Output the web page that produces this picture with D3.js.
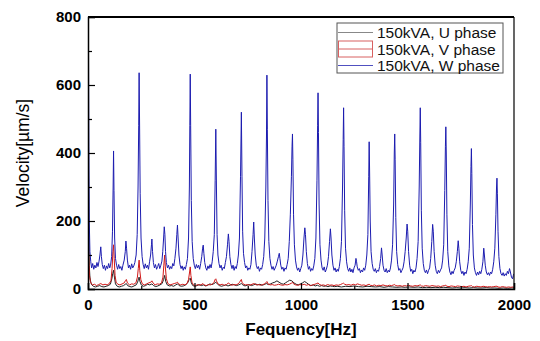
<!DOCTYPE html>
<html>
<head>
<meta charset="utf-8">
<script src="https://cdn.jsdelivr.net/npm/d3@7"></script>
<style>
  body { margin: 0; background: #fff; }
  svg { display: block; font-family: 'Liberation Sans', Arial, sans-serif; }
</style>
</head>
<body>
<div id="chart"></div>
<script>
// series values: [frequency Hz, velocity um/s]
const uPhase = [
  [0, 700], [2, 400], [4, 150], [6, 70], [9, 35], [13, 20], [18, 12], [25, 8], [35, 6], [45, 8],
  [55, 10], [65, 7], [75, 6], [85, 8], [95, 10], [105, 14], [112, 30], [116, 45], [120, 55], [124, 35],
  [129, 15], [137, 8], [147, 6], [157, 8], [167, 10], [175, 14], [180, 16], [186, 10], [196, 7], [206, 6],
  [216, 9], [226, 12], [233, 20], [237, 30], [240, 35], [244, 22], [250, 12], [260, 8], [270, 10], [280, 14],
  [290, 12], [300, 15], [308, 10], [318, 7], [328, 9], [338, 12], [348, 16], [355, 28], [360, 40], [365, 22],
  [372, 12], [382, 9], [392, 10], [402, 8], [412, 12], [420, 15], [428, 10], [438, 8], [448, 9], [458, 12],
  [468, 18], [475, 28], [480, 32], [485, 18], [492, 10], [502, 8], [512, 10], [522, 13], [532, 10], [542, 12],
  [552, 9], [562, 11], [572, 15], [582, 13], [592, 16], [600, 20], [607, 15], [617, 10], [627, 8], [637, 10],
  [647, 12], [657, 9], [667, 11], [677, 14], [687, 12], [697, 10], [707, 12], [717, 15], [720, 16], [727, 12],
  [737, 9], [747, 11], [757, 13], [767, 10], [777, 12], [787, 15], [797, 12], [807, 14], [817, 11], [827, 13],
  [837, 16], [847, 13], [857, 15], [867, 18], [877, 20], [887, 24], [897, 20], [907, 16], [917, 14], [927, 18],
  [937, 22], [947, 26], [957, 24], [967, 18], [977, 14], [987, 12], [997, 15], [1007, 18], [1017, 22], [1027, 18],
  [1037, 13], [1047, 10], [1057, 12], [1067, 9], [1077, 11], [1087, 8], [1097, 10], [1107, 8], [1117, 9], [1127, 7],
  [1137, 9], [1147, 8], [1157, 7], [1170, 8], [1190, 6], [1210, 8], [1230, 7], [1250, 9], [1270, 7], [1290, 6],
  [1310, 8], [1330, 7], [1350, 6], [1370, 7], [1390, 5], [1410, 7], [1430, 6], [1450, 5], [1470, 6], [1490, 5],
  [1510, 6], [1530, 5], [1550, 6], [1570, 4], [1590, 5], [1610, 4], [1630, 5], [1650, 4], [1670, 5], [1690, 4],
  [1710, 3], [1730, 4], [1750, 3], [1770, 4], [1790, 3], [1810, 4], [1830, 3], [1850, 3], [1870, 4], [1890, 3],
  [1910, 3], [1930, 2], [1950, 3], [1970, 2], [1990, 3], [2000, 3]
];

const vPhase = [
  [0, 235], [2, 150], [4, 80], [7, 40], [11, 22], [16, 15], [22, 12], [30, 14], [40, 10], [50, 13],
  [60, 16], [70, 12], [80, 14], [90, 12], [100, 16], [108, 25], [113, 60], [117, 110], [120, 130], [123, 90],
  [127, 40], [132, 20], [140, 14], [150, 12], [160, 15], [170, 18], [176, 25], [180, 28], [185, 18], [195, 12],
  [205, 15], [215, 14], [225, 18], [232, 35], [236, 60], [240, 85], [243, 55], [248, 28], [255, 15], [265, 12],
  [275, 15], [285, 18], [295, 20], [300, 24], [305, 18], [315, 12], [325, 15], [335, 14], [345, 18], [352, 35],
  [356, 70], [360, 100], [363, 65], [368, 30], [375, 16], [385, 12], [395, 14], [405, 16], [415, 18], [420, 20],
  [425, 15], [435, 12], [445, 14], [455, 12], [465, 16], [472, 28], [477, 50], [480, 65], [483, 40], [488, 20],
  [495, 12], [505, 10], [515, 13], [525, 11], [535, 14], [540, 16], [545, 12], [555, 10], [565, 13], [575, 12],
  [585, 15], [592, 20], [597, 28], [600, 30], [603, 24], [610, 15], [620, 12], [630, 14], [640, 11], [650, 13],
  [660, 18], [665, 14], [675, 11], [685, 13], [695, 12], [705, 15], [712, 20], [717, 26], [720, 28], [723, 20],
  [730, 14], [740, 12], [750, 13], [760, 11], [770, 14], [780, 16], [790, 12], [800, 13], [810, 11], [820, 13],
  [830, 15], [837, 20], [840, 22], [845, 15], [855, 12], [865, 13], [875, 11], [885, 12], [895, 14], [905, 12],
  [915, 11], [925, 13], [935, 12], [945, 14], [955, 17], [960, 20], [965, 15], [975, 12], [985, 11], [995, 13],
  [1005, 12], [1015, 14], [1025, 11], [1035, 13], [1045, 10], [1055, 12], [1065, 14], [1075, 16], [1080, 18], [1085, 14],
  [1095, 11], [1105, 12], [1115, 10], [1125, 13], [1135, 11], [1145, 12], [1155, 10], [1165, 12], [1175, 11], [1185, 13],
  [1195, 16], [1200, 17], [1205, 14], [1215, 12], [1225, 13], [1235, 11], [1245, 14], [1255, 12], [1265, 15], [1275, 13],
  [1285, 11], [1295, 12], [1305, 10], [1315, 13], [1320, 14], [1325, 11], [1335, 10], [1345, 12], [1355, 9], [1365, 11],
  [1375, 10], [1385, 12], [1395, 10], [1405, 9], [1415, 11], [1425, 10], [1435, 12], [1440, 13], [1445, 10], [1455, 9],
  [1465, 10], [1475, 8], [1485, 10], [1495, 9], [1505, 11], [1515, 9], [1525, 8], [1535, 10], [1545, 9], [1555, 11],
  [1560, 12], [1565, 9], [1575, 8], [1585, 10], [1595, 9], [1605, 8], [1615, 10], [1625, 9], [1635, 8], [1645, 9],
  [1655, 7], [1665, 9], [1675, 10], [1680, 11], [1685, 8], [1695, 7], [1705, 9], [1715, 8], [1725, 7], [1735, 9],
  [1745, 8], [1755, 7], [1765, 8], [1775, 6], [1785, 8], [1795, 9], [1800, 10], [1805, 7], [1815, 6], [1825, 8],
  [1835, 7], [1845, 6], [1855, 8], [1865, 7], [1875, 6], [1885, 7], [1895, 6], [1905, 7], [1915, 8], [1920, 8],
  [1925, 6], [1935, 5], [1945, 7], [1955, 6], [1965, 5], [1975, 6], [1985, 5], [1995, 6], [2000, 5]
];

const wPhase = [
  [0, 800], [2, 760], [4, 420], [6, 200], [9, 110], [13, 80], [17, 62], [22, 75], [27, 58], [32, 70],
  [37, 62], [42, 78], [47, 66], [52, 82], [56, 100], [60, 124], [63, 95], [67, 72], [72, 60], [77, 70],
  [82, 55], [87, 68], [92, 60], [97, 75], [102, 62], [106, 70], [111, 95], [115, 170], [118, 300], [120, 406],
  [122, 290], [125, 150], [129, 90], [134, 70], [139, 58], [144, 72], [149, 60], [154, 66], [159, 55], [164, 70],
  [170, 85], [175, 110], [178, 141], [181, 120], [185, 85], [190, 62], [195, 70], [200, 58], [205, 74], [210, 62],
  [215, 68], [220, 78], [226, 100], [231, 160], [235, 300], [238, 480], [240, 636], [242, 500], [245, 280], [249, 150],
  [254, 95], [259, 72], [264, 60], [269, 74], [274, 62], [279, 70], [284, 58], [289, 80], [294, 100], [298, 130],
  [300, 147], [303, 110], [307, 78], [312, 62], [317, 72], [322, 58], [327, 66], [332, 75], [337, 60], [342, 70],
  [347, 82], [351, 110], [355, 150], [358, 183], [361, 160], [364, 110], [368, 78], [373, 62], [378, 70], [383, 58],
  [388, 66], [393, 60], [398, 75], [403, 68], [408, 90], [413, 120], [417, 160], [420, 188], [423, 150], [427, 100],
  [432, 72], [437, 60], [442, 68], [447, 55], [452, 65], [457, 58], [462, 72], [467, 90], [472, 150], [476, 300],
  [478, 480], [480, 632], [482, 480], [485, 260], [489, 140], [494, 90], [499, 70], [504, 60], [509, 72], [514, 62],
  [519, 70], [524, 58], [529, 75], [534, 95], [538, 120], [541, 129], [544, 105], [548, 78], [553, 62], [558, 55],
  [563, 68], [568, 60], [573, 72], [578, 62], [583, 80], [588, 110], [593, 160], [597, 320], [600, 470], [603, 300],
  [606, 160], [610, 100], [615, 75], [620, 62], [625, 70], [630, 55], [635, 64], [640, 60], [645, 78], [650, 95],
  [655, 130], [659, 162], [662, 140], [666, 95], [671, 72], [676, 60], [681, 70], [686, 55], [691, 66], [696, 60],
  [701, 75], [706, 100], [711, 150], [716, 330], [720, 520], [723, 330], [726, 170], [730, 105], [735, 78], [740, 62],
  [745, 68], [750, 55], [755, 62], [760, 58], [765, 72], [770, 110], [775, 160], [778, 197], [781, 150], [785, 100],
  [790, 70], [795, 60], [800, 66], [805, 52], [810, 62], [815, 58], [820, 72], [825, 95], [830, 150], [835, 300],
  [838, 450], [840, 629], [842, 470], [845, 260], [849, 140], [854, 90], [859, 70], [864, 58], [869, 66], [874, 55],
  [879, 62], [884, 70], [889, 82], [894, 95], [898, 105], [901, 90], [905, 70], [910, 58], [915, 64], [920, 52],
  [925, 62], [930, 58], [935, 72], [940, 90], [945, 140], [950, 220], [955, 330], [958, 420], [960, 456], [962, 380],
  [965, 220], [969, 130], [974, 85], [979, 65], [984, 55], [989, 62], [994, 50], [999, 60], [1004, 70], [1009, 100],
  [1014, 150], [1018, 180], [1021, 160], [1025, 110], [1030, 75], [1035, 58], [1040, 66], [1045, 52], [1050, 60], [1055, 55],
  [1060, 68], [1065, 90], [1070, 150], [1075, 320], [1078, 480], [1080, 577], [1082, 460], [1085, 250], [1089, 130], [1094, 85],
  [1099, 62], [1104, 55], [1109, 65], [1114, 50], [1119, 58], [1124, 70], [1129, 95], [1134, 140], [1138, 177], [1141, 150],
  [1145, 100], [1150, 70], [1155, 55], [1160, 62], [1165, 50], [1170, 58], [1175, 52], [1180, 66], [1185, 90], [1190, 140],
  [1195, 300], [1198, 440], [1200, 533], [1202, 420], [1205, 230], [1209, 120], [1214, 80], [1219, 60], [1224, 52], [1229, 62],
  [1234, 50], [1239, 58], [1244, 48], [1249, 62], [1254, 70], [1258, 90], [1261, 80], [1264, 65], [1269, 55], [1274, 60],
  [1279, 48], [1284, 56], [1289, 50], [1294, 62], [1299, 55], [1304, 70], [1309, 100], [1314, 160], [1318, 330], [1320, 433],
  [1322, 350], [1325, 200], [1329, 110], [1334, 75], [1339, 58], [1344, 52], [1349, 60], [1354, 48], [1359, 56], [1364, 52],
  [1369, 66], [1374, 90], [1378, 121], [1381, 100], [1385, 70], [1390, 55], [1395, 50], [1400, 60], [1405, 48], [1410, 55],
  [1415, 50], [1420, 62], [1425, 85], [1430, 130], [1435, 250], [1438, 400], [1440, 456], [1442, 380], [1445, 210], [1449, 110],
  [1454, 72], [1459, 55], [1464, 60], [1469, 48], [1474, 55], [1479, 62], [1484, 80], [1489, 110], [1494, 150], [1498, 191],
  [1501, 170], [1505, 110], [1510, 70], [1515, 52], [1520, 58], [1525, 45], [1530, 55], [1535, 50], [1540, 62], [1545, 90],
  [1550, 140], [1555, 300], [1558, 450], [1560, 533], [1562, 430], [1565, 230], [1569, 120], [1574, 75], [1579, 55], [1584, 48],
  [1589, 56], [1594, 45], [1599, 55], [1604, 62], [1609, 90], [1614, 140], [1618, 190], [1621, 170], [1625, 110], [1630, 70],
  [1635, 52], [1640, 45], [1645, 55], [1650, 48], [1655, 56], [1660, 62], [1665, 85], [1670, 130], [1675, 290], [1678, 420],
  [1680, 477], [1682, 400], [1685, 220], [1689, 110], [1694, 68], [1699, 50], [1704, 42], [1709, 52], [1714, 45], [1719, 55],
  [1724, 62], [1729, 80], [1734, 110], [1738, 142], [1741, 120], [1745, 80], [1750, 55], [1755, 45], [1760, 52], [1765, 40],
  [1770, 50], [1775, 45], [1780, 58], [1785, 80], [1790, 120], [1795, 250], [1798, 360], [1800, 413], [1802, 340], [1805, 190],
  [1809, 100], [1814, 62], [1819, 48], [1824, 40], [1829, 50], [1834, 42], [1839, 52], [1844, 45], [1849, 58], [1854, 80],
  [1858, 120], [1861, 100], [1865, 70], [1870, 50], [1875, 42], [1880, 48], [1885, 40], [1890, 50], [1895, 45], [1900, 58],
  [1905, 80], [1910, 120], [1915, 220], [1918, 300], [1920, 326], [1922, 280], [1925, 170], [1929, 95], [1934, 60], [1939, 45],
  [1944, 40], [1949, 48], [1954, 38], [1959, 45], [1964, 40], [1969, 52], [1974, 45], [1979, 60], [1983, 50], [1988, 35],
  [1993, 30], [1997, 40], [2000, 45]
];

const seriesNames = ['150kVA, U phase', '150kVA, V phase', '150kVA, W phase'];
const seriesColors = ['#222222', '#d01818', '#1c1cb0'];
const xTicks = [0, 500, 1000, 1500, 2000];
const xMinorTicks = [250, 750, 1250, 1750];
const yTicks = [0, 200, 400, 600, 800];
const yMinorTicks = [100, 300, 500, 700];

function draw () {
  const svgWidth = 540;
  const svgHeight = 341;
  const margin = { top: 17, right: 26, bottom: 52, left: 88 };
  const width = svgWidth - margin.left - margin.right;
  const height = svgHeight - margin.top - margin.bottom;

  const svg = d3.select('#chart')
    .append('svg')
    .attr('width', svgWidth)
    .attr('height', svgHeight);

  svg.append('rect').attr('width', svgWidth).attr('height', svgHeight).attr('fill', '#fff');

  const g = svg.append('g')
    .attr('transform', `translate(${margin.left}, ${margin.top})`);

  const x = d3.scaleLinear().domain([0, 2000]).range([0, width]);
  const y = d3.scaleLinear().domain([0, 800]).range([height, 0]);

  g.append('clipPath').attr('id', 'plot-clip')
    .append('rect').attr('width', width).attr('height', height);

  const line = d3.line()
    .x(d => x(d[0]))
    .y(d => y(d[1]));

  const plot = g.append('g').attr('clip-path', 'url(#plot-clip)');
  [uPhase, vPhase, wPhase].forEach((data, i) => {
    plot.append('path')
      .datum(data)
      .attr('fill', 'none')
      .attr('stroke', seriesColors[i])
      .attr('stroke-width', 1)
      .attr('stroke-linejoin', 'round')
      .attr('d', line);
  });

  // frame
  g.append('line').attr('x1', 0).attr('x2', width).attr('y1', 0).attr('y2', 0)
    .attr('stroke', '#000').attr('stroke-width', 2);
  g.append('line').attr('x1', width).attr('x2', width).attr('y1', 0).attr('y2', height)
    .attr('stroke', '#000').attr('stroke-width', 1.2);

  // axes, ticks point inward
  const xAxis = g.append('g')
    .attr('transform', `translate(0, ${height})`)
    .call(d3.axisBottom(x).tickValues(xTicks).tickSize(-6).tickPadding(10).tickFormat(d3.format('d')));
  g.append('g')
    .attr('transform', `translate(0, ${height})`)
    .call(d3.axisBottom(x).tickValues(xMinorTicks).tickSize(-3).tickFormat(''))
    .call(a => a.select('.domain').remove());

  const yAxis = g.append('g')
    .call(d3.axisLeft(y).tickValues(yTicks).tickSize(-7).tickPadding(7).tickFormat(d3.format('d')));
  g.append('g')
    .call(d3.axisLeft(y).tickValues(yMinorTicks).tickSize(-4).tickFormat(''))
    .call(a => a.select('.domain').remove());

  g.selectAll('.domain').attr('stroke', '#000').attr('stroke-width', 1.5);
  g.selectAll('.tick line').attr('stroke', '#000').attr('stroke-width', 1.2);
  [xAxis, yAxis].forEach(a => a.selectAll('text')
    .attr('fill', '#000')
    .style('font-size', '15px')
    .style('font-weight', 'bold')
    .style('font-family', "'Liberation Sans', Arial, sans-serif"));

  // axis titles
  svg.append('text')
    .attr('x', margin.left + width / 2)
    .attr('y', 335)
    .attr('text-anchor', 'middle')
    .style('font-size', '17px')
    .style('font-weight', 'bold')
    .text('Fequency[Hz]');

  svg.append('text')
    .attr('transform', `translate(29, ${margin.top + height / 2}) rotate(-90)`)
    .attr('text-anchor', 'middle')
    .style('font-size', '17.5px')
    .text('Velocity[\u00b5m/s]');

  // legend
  const lg = svg.append('g').attr('transform', 'translate(337, 23)');
  lg.append('rect')
    .attr('width', 166).attr('height', 50)
    .attr('fill', '#fff').attr('stroke', '#555').attr('stroke-width', 1);

  seriesNames.forEach((name, i) => {
    const cy = 9.5 + i * 16.5;
    if (i === 1) {
      lg.append('rect')
        .attr('x', 1.5).attr('y', cy - 8).attr('width', 34).attr('height', 16)
        .attr('fill', 'none').attr('stroke', '#d86060').attr('stroke-width', 1);
      lg.append('line')
        .attr('x1', 1.5).attr('x2', 35.5).attr('y1', cy).attr('y2', cy)
        .attr('stroke', '#d86060').attr('stroke-width', 1);
    } else {
      lg.append('line')
        .attr('x1', 1).attr('x2', 36).attr('y1', cy).attr('y2', cy)
        .attr('stroke', i === 0 ? '#888' : '#5050c0').attr('stroke-width', 1);
    }
    lg.append('text')
      .attr('x', 40).attr('y', cy + 5.5)
      .style('font-size', '15.5px')
      .attr('fill', '#111')
      .text(name);
  });
}

draw();
</script>
</body>
</html>
